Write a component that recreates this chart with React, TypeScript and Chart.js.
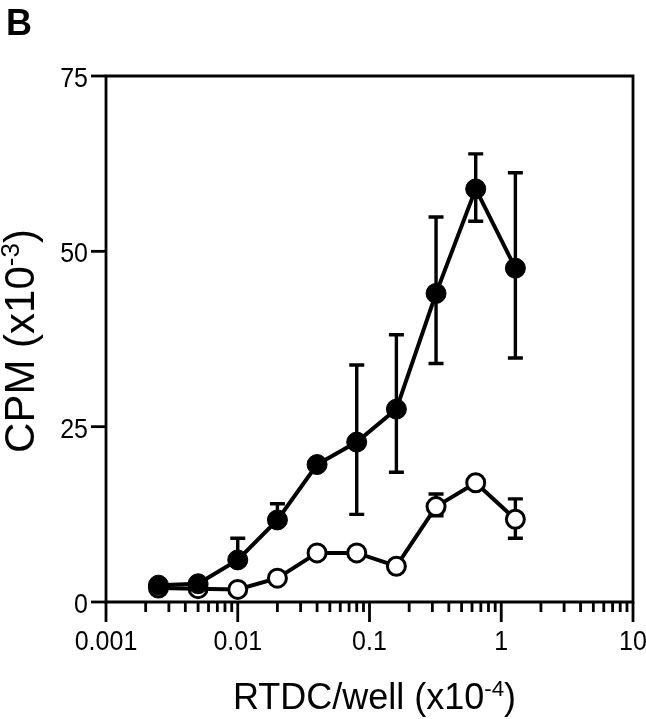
import React, { useEffect, useRef } from 'react';
import { Chart, registerables } from 'chart.js';

Chart.register(...registerables);

const FONT = "'Liberation Sans', Arial, Helvetica, sans-serif";

// RTDC/well (x10^-4)
const xValues = [0.0025, 0.005, 0.01, 0.02, 0.04, 0.08, 0.16, 0.32, 0.64, 1.28];

// Filled circles series, CPM (x10^-3)
const filledMean = [2.4, 2.6, 6.0, 11.7, 19.6, 22.8, 27.5, 44.0, 58.9, 47.6];
const filledUpper: (number | null)[] = [null, null, 9.1, 14.0, null, 33.8, 38.1, 54.9, 63.9, 61.2];
const filledLower: (number | null)[] = [null, null, null, null, null, 12.5, 18.5, 34.0, 54.3, 34.8];

// Open circles series
const openMean = [2.0, 1.9, 1.8, 3.4, 7.0, 7.0, 5.1, 13.6, 17.0, 11.8];
const openUpper: (number | null)[] = [null, null, null, null, null, null, null, 15.4, null, 14.7];
const openLower: (number | null)[] = [null, null, null, null, null, null, null, 12.3, null, 9.1];

// Axis ticks
const xMajorTicks = [0.001, 0.01, 0.1, 1, 10];
const xTickLabels = ['0.001', '0.01', '0.1', '1', '10'];
const yTicks = [0, 25, 50, 75];
const yTickLabels = ['0', '25', '50', '75'];

const panelLabel = 'B';
const xTitleParts = [{ t: 'RTDC/well (x10' }, { t: '-4', sup: true }, { t: ')' }];
const yTitleParts = [{ t: 'CPM (x10' }, { t: '-3', sup: true }, { t: ')' }];

type Part = { t: string; sup?: boolean };

function drawRich(ctx: CanvasRenderingContext2D, parts: Part[], size: number, cx: number, baseline: number) {
  const supSize = size * 0.62;
  const widths = parts.map((p) => {
    ctx.font = `${p.sup ? supSize : size}px ${FONT}`;
    return ctx.measureText(p.t).width;
  });
  const total = widths.reduce((a, b) => a + b, 0);
  let x = cx - total / 2;
  ctx.textAlign = 'left';
  ctx.textBaseline = 'alphabetic';
  parts.forEach((p, i) => {
    ctx.font = `${p.sup ? supSize : size}px ${FONT}`;
    ctx.fillText(p.t, x, p.sup ? baseline - size * 0.36 : baseline);
    x += widths[i];
  });
}

function drawStretched(ctx: CanvasRenderingContext2D, text: string, x: number, y: number, sy: number) {
  ctx.save();
  ctx.translate(x, y);
  ctx.scale(1, sy);
  ctx.fillText(text, 0, 0);
  ctx.restore();
}

export default function App() {
  const ref = useRef<HTMLCanvasElement>(null);

  useEffect(() => {
    const canvas = ref.current!;

    const overlay = {
      id: 'overlay',
      beforeDatasetsDraw(chart: any) {
        const ctx: CanvasRenderingContext2D = chart.ctx;
        const xs = chart.scales.x;
        const ys = chart.scales.y;
        ctx.save();
        ctx.strokeStyle = '#000';
        ctx.lineWidth = 3.4;
        ctx.lineCap = 'butt';
        const bars = (mean: number[], up: (number | null)[], lo: (number | null)[]) => {
          xValues.forEach((xv, i) => {
            const px = xs.getPixelForValue(xv);
            const pm = ys.getPixelForValue(mean[i]);
            [up[i], lo[i]].forEach((v) => {
              if (v === null || v === undefined) return;
              const pv = ys.getPixelForValue(v);
              ctx.beginPath();
              ctx.moveTo(px, pm);
              ctx.lineTo(px, pv);
              ctx.moveTo(px - 7.5, pv);
              ctx.lineTo(px + 7.5, pv);
              ctx.stroke();
            });
          });
        };
        bars(filledMean, filledUpper, filledLower);
        bars(openMean, openUpper, openLower);
        ctx.restore();
      },
      afterDraw(chart: any) {
        const ctx: CanvasRenderingContext2D = chart.ctx;
        const xs = chart.scales.x;
        const ys = chart.scales.y;
        const a = chart.chartArea;
        ctx.save();
        ctx.strokeStyle = '#000';
        ctx.fillStyle = '#000';
        ctx.lineWidth = 2.8;
        ctx.lineCap = 'square';
        // frame
        ctx.beginPath();
        ctx.rect(a.left, a.top, a.right - a.left, a.bottom - a.top);
        ctx.stroke();
        ctx.lineCap = 'butt';
        // y ticks
        yTicks.forEach((v) => {
          const py = ys.getPixelForValue(v);
          ctx.beginPath();
          ctx.moveTo(a.left - 15, py);
          ctx.lineTo(a.left, py);
          ctx.stroke();
        });
        // x ticks (major + minor)
        xMajorTicks.forEach((v, k) => {
          const px = xs.getPixelForValue(v);
          ctx.beginPath();
          ctx.moveTo(px, a.bottom);
          ctx.lineTo(px, a.bottom + 20);
          ctx.stroke();
          if (k < xMajorTicks.length - 1) {
            for (let m = 2; m <= 9; m++) {
              const mx = xs.getPixelForValue(v * m);
              ctx.beginPath();
              ctx.moveTo(mx, a.bottom);
              ctx.lineTo(mx, a.bottom + 10);
              ctx.stroke();
            }
          }
        });
        // tick labels
        ctx.font = `25px ${FONT}`;
        ctx.textAlign = 'right';
        ctx.textBaseline = 'alphabetic';
        yTicks.forEach((v, i) => {
          drawStretched(ctx, yTickLabels[i], a.left - 18, ys.getPixelForValue(v) + 11, 1.1);
        });
        ctx.textAlign = 'center';
        xMajorTicks.forEach((v, i) => {
          drawStretched(ctx, xTickLabels[i], xs.getPixelForValue(v), a.bottom + 48, 1.1);
        });
        // axis titles
        drawRich(ctx, xTitleParts, 36, (a.left + a.right) / 2 + 5, 709);
        ctx.save();
        ctx.translate(34, (a.top + a.bottom) / 2 + 2);
        ctx.rotate(-Math.PI / 2);
        drawRich(ctx, yTitleParts, 42, 0, 0);
        ctx.restore();
        // panel label
        ctx.font = `bold 36px ${FONT}`;
        ctx.textAlign = 'left';
        ctx.textBaseline = 'alphabetic';
        ctx.fillText(panelLabel, 6, 35);
        ctx.restore();
      },
    };

    const chart = new Chart(canvas, {
      type: 'line',
      data: {
        datasets: [
          {
            label: 'filled',
            data: xValues.map((x, i) => ({ x, y: filledMean[i] })),
            borderColor: '#000',
            backgroundColor: '#000',
            borderWidth: 4,
            pointRadius: 10,
            pointBackgroundColor: '#000',
            pointBorderColor: '#000',
            pointBorderWidth: 1,
            tension: 0,
            clip: false as any,
          },
          {
            label: 'open',
            data: xValues.map((x, i) => ({ x, y: openMean[i] })),
            borderColor: '#000',
            backgroundColor: '#fff',
            borderWidth: 4,
            pointRadius: 9,
            pointBackgroundColor: '#fff',
            pointBorderColor: '#000',
            pointBorderWidth: 3,
            tension: 0,
            clip: false as any,
          },
        ],
      },
      options: {
        responsive: false,
        animation: false,
        devicePixelRatio: 1,
        events: [],
        layout: { padding: { left: 106, top: 76, right: 13, bottom: 117 } },
        plugins: { legend: { display: false }, tooltip: { enabled: false } },
        scales: {
          x: { type: 'logarithmic', min: 0.001, max: 10, display: false },
          y: { type: 'linear', min: 0, max: 75, display: false },
        },
      },
      plugins: [overlay],
    });
    return () => chart.destroy();
  }, []);

  return (
    <div style={{ position: 'absolute', left: 0, top: 0, width: 646, height: 719, background: '#fff' }}>
      <canvas ref={ref} width={646} height={719} style={{ display: 'block' }} />
    </div>
  );
}
